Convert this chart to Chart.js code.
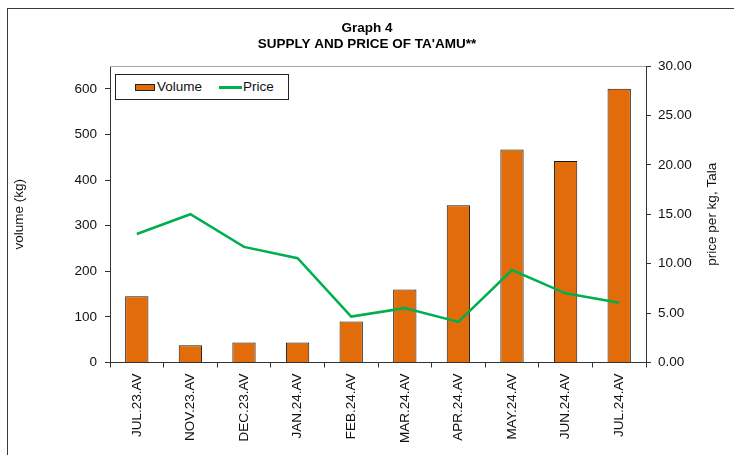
<!DOCTYPE html>
<html>
<head>
<meta charset="utf-8">
<script src="https://cdn.jsdelivr.net/npm/chart.js@4/dist/chart.umd.min.js"></script>
<style>
  html, body { margin: 0; padding: 0; background: #fff; }
  #wrap { position: relative; width: 734px; height: 455px; overflow: hidden; }
  #frame { position: absolute; left: 7px; top: 8px; width: 740px; height: 460px; border: 1px solid #3a3a3a; pointer-events: none; }
  #legend {
    position: absolute; left: 115px; top: 74px; width: 172px; height: 24px;
    border: 1px solid #222; background: #fff;
    font: 13.5px "Liberation Sans", Arial, sans-serif; color: #111;
  }
  #legend .sw { position: absolute; left: 19px; top: 9px; width: 18px; height: 5px; background: #e36c0a; border: 1px solid #222; }
  #legend .ln { position: absolute; left: 103px; top: 11px; width: 23px; height: 3px; background: #00b050; }
  #legend .t1 { position: absolute; left: 41px; top: 4px; }
  #legend .t2 { position: absolute; left: 127px; top: 4px; }
</style>
</head>
<body>
<div id="wrap">
  <canvas id="graph" width="734" height="455"></canvas>
  <div id="frame"></div>
  <div id="legend">
    <div class="sw"></div><span class="t1">Volume</span>
    <div class="ln"></div><span class="t2">Price</span>
  </div>
</div>
<script>
// data
const months = ['JUL.23.AV', 'NOV.23.AV', 'DEC.23.AV', 'JAN.24.AV', 'FEB.24.AV',
                'MAR.24.AV', 'APR.24.AV', 'MAY.24.AV', 'JUN.24.AV', 'JUL.24.AV'];
const volume = [145, 38, 44, 44, 90, 160, 345, 467, 442, 600];
const price = [13.0, 15.0, 11.7, 10.55, 4.65, 5.5, 4.1, 9.35, 7.0, 6.05];
const volumeTicks = [0, 100, 200, 300, 400, 500, 600];
const priceTicks = [0, 5, 10, 15, 20, 25, 30];
const priceTitle = 'price per kg, Tala';

const font = { family: '"Liberation Sans", Arial, sans-serif', size: 13.5 };

// grey line along the top of the plot area + right axis title (reads upward like Excel)
const extras = {
    id: 'extras',
    afterDraw(chart) {
        const { ctx, chartArea: a } = chart;
        ctx.save();
        ctx.strokeStyle = '#a6a6a6';
        ctx.lineWidth = 1;
        ctx.beginPath();
        ctx.moveTo(a.left, a.top + 0.5);
        ctx.lineTo(a.right, a.top + 0.5);
        ctx.stroke();

        ctx.translate(712, (a.top + a.bottom) / 2);
        ctx.rotate(-Math.PI / 2);
        ctx.font = `${font.size}px ${font.family}`;
        ctx.fillStyle = '#111';
        ctx.textAlign = 'center';
        ctx.textBaseline = 'middle';
        ctx.fillText(priceTitle, 0, 0);
        ctx.restore();
    }
};

new Chart(document.getElementById('graph'), {
    type: 'bar',
    data: {
        labels: months,
        datasets: [
            {
                type: 'line',
                label: 'Price',
                data: price,
                yAxisID: 'y1',
                borderColor: '#00b050',
                borderWidth: 2.5,
                pointRadius: 0,
                tension: 0,
                order: 0
            },
            {
                label: 'Volume',
                data: volume,
                yAxisID: 'y',
                backgroundColor: '#e36c0a',
                borderColor: '#1a1a1a',
                borderWidth: 1,
                barPercentage: 0.435,
                categoryPercentage: 1,
                order: 1
            }
        ]
    },
    options: {
        responsive: false,
        animation: false,
        layout: { padding: 0 },
        plugins: {
            legend: { display: false },
            tooltip: { enabled: false },
            title: {
                display: true,
                text: ['Graph 4', "SUPPLY AND PRICE OF TA'AMU**"],
                color: '#000',
                font: { ...font, weight: 'bold' },
                padding: { top: 20, bottom: 13.6 }
            }
        },
        scales: {
            x: {
                offset: true,
                grid: { offset: true, drawOnChartArea: false, tickLength: 5, color: '#333' },
                border: { color: '#333' },
                ticks: { color: '#111', font, minRotation: 90, maxRotation: 90, padding: 6, autoSkip: false },
                afterFit(s) { s.height = 92.5; }
            },
            y: {
                position: 'left',
                min: 0,
                max: 650,
                afterBuildTicks(s) { s.ticks = volumeTicks.map(v => ({ value: v })); },
                grid: { drawOnChartArea: false, tickLength: 5, color: '#333' },
                border: { color: '#333' },
                ticks: { color: '#111', font, padding: 8 },
                title: { display: true, text: 'volume (kg)', color: '#111', font, padding: { top: 11, bottom: 0 } },
                afterFit(s) { s.width = 110; }
            },
            y1: {
                position: 'right',
                min: 0,
                max: 30,
                afterBuildTicks(s) { s.ticks = priceTicks.map(v => ({ value: v })); },
                grid: { drawOnChartArea: false, tickLength: 5, color: '#333' },
                border: { color: '#333' },
                ticks: { color: '#111', font, padding: 7, callback: v => v.toFixed(2) },
                afterFit(s) { s.width = 88; }
            }
        }
    },
    plugins: [extras]
});
</script>
</body>
</html>
